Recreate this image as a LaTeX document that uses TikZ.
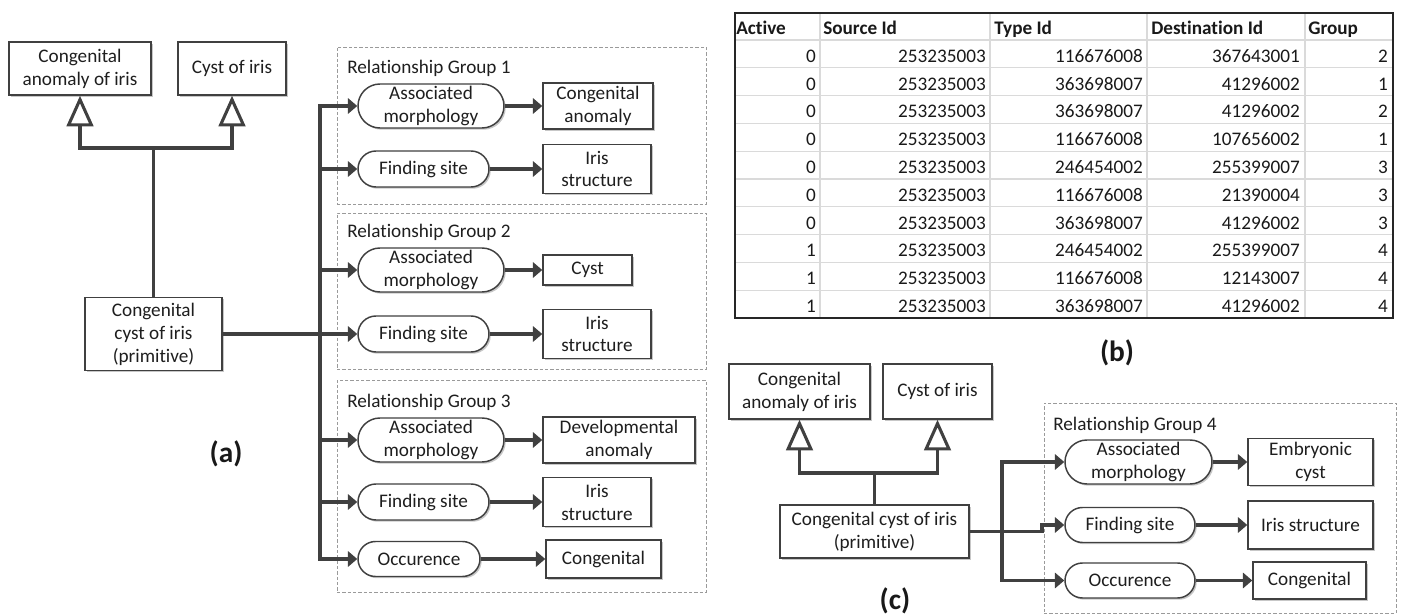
\documentclass[tikz,border=0pt]{standalone}
\usepackage{fontspec}
\setmainfont{Carlito}[Ligatures=NoCommon]
\usetikzlibrary{arrows.meta,shapes.misc,shadows}
\definecolor{ln}{HTML}{404040}
\definecolor{tx}{HTML}{1E1E1E}
\definecolor{grd}{HTML}{DADADA}
\definecolor{dsh}{HTML}{9A9A9A}
\begin{document}
\begin{tikzpicture}[x=0.75pt,y=-0.75pt,
  every node/.style={font=\fontsize{14.4}{17.2}\selectfont, text=tx},
  sz/.style 2 args={minimum width=#1*0.75pt, minimum height=#2*0.75pt},
  cbox/.style={draw=ln, line width=1.1pt, fill=white, inner sep=0pt, align=center,
    drop shadow={shadow xshift=1.3pt, shadow yshift=-1.3pt, opacity=0.22, fill=black}},
  pill/.style={cbox, rounded rectangle},
  grp/.style={draw=dsh, line width=0.6pt, dash pattern=on 2.5pt off 1.5pt, inner sep=0pt},
  glabel/.style={anchor=west, inner sep=0pt},
  bus/.style={draw=ln, line width=2.6pt},
  rel/.style={bus, -{Triangle[length=7pt,width=11.5pt]}},
  isa/.style={draw=ln, line width=2.3pt, -{Triangle[open,length=23pt,width=20pt,fill=white]}},
  capl/.style={font=\fontsize{22}{26}\selectfont\bfseries, text=black!90},
  hd/.style={font=\fontsize{14.4}{17}\selectfont\bfseries, anchor=base west, inner sep=0pt, text=black!90},
  num/.style={anchor=base east, inner sep=0pt, text=black!90},
  tgrid/.style={draw=grd, line width=1pt},
]
\useasboundingbox (0,0) rectangle (1404,616);

% ---------------- (a) ----------------
\node[grp, sz={369}{157}] (g1) at (521.5,125.5) {};
\node[grp, sz={369}{156}] (g2) at (521.5,291) {};
\node[grp, sz={369}{212}] (g3) at (521.5,486) {};
\node[glabel] (g1l) at (347,68) {Relationship Group 1};
\node[glabel] (g2l) at (347,232) {Relationship Group 2};
\node[glabel] (g3l) at (347,402) {Relationship Group 3};

\node[cbox, sz={142}{53}] (a1) at (80,68.5) {Congenital\\anomaly of iris};
\node[cbox, sz={108}{53}] (a2) at (232,68.5) {Cyst of iris};
\node[cbox, sz={137}{73}] (ap) at (153.5,334) {Congenital\\cyst of iris\\(primitive)};

\node[pill, sz={146}{44}] (p1) at (431,106) {Associated\\morphology};
\node[cbox, sz={110}{46}] (t1) at (598,106) {Congenital\\anomaly};
\node[pill, sz={131}{36}] (p2) at (423.5,169) {Finding site};
\node[cbox, sz={108}{49}] (t2) at (597,169) {Iris\\structure};
\node[pill, sz={146}{44}] (p3) at (431,270) {Associated\\morphology};
\node[cbox, sz={89}{30}] (t3) at (587.5,270) {Cyst};
\node[pill, sz={131}{36}] (p4) at (423.5,334) {Finding site};
\node[cbox, sz={108}{49}] (t4) at (597,334) {Iris\\structure};
\node[pill, sz={146}{44}] (p5) at (431,440) {Associated\\morphology};
\node[cbox, sz={152}{46}] (t5) at (619,440) {Developmental\\anomaly};
\node[pill, sz={131}{36}] (p6) at (423.5,502) {Finding site};
\node[cbox, sz={108}{49}] (t6) at (597,502) {Iris\\structure};
\node[pill, sz={122}{35}] (p7) at (419,559) {Occurence};
\node[cbox, sz={115}{38}] (t7) at (603.5,559) {Congenital};

\coordinate (ja) at (153.5,148);
\draw[isa] (ap.north) -- (ja) -| (a1.south);
\draw[isa] (ja) -| (a2.south);

\coordinate (bT) at (320,106);
\coordinate (bB) at (320,559);
\draw[bus] (ap.east) -- (ap.east -| bT);
\draw[rel] (bB) |- (p1.west);
\draw[rel] (bT) |- (p7.west);
\foreach \p in {p2,p3,p4,p5,p6} \draw[rel] (\p.west -| bT) -- (\p.west);
\foreach \p/\t in {p1/t1,p2/t2,p3/t3,p4/t4,p5/t5,p6/t6,p7/t7} \draw[rel] (\p.east) -- (\t.west);

\node[capl] (la) at (226,454) {(a)};

% ---------------- (b) table ----------------
\foreach \k in {0,...,9} \draw[tgrid] (735,{40+27.8*\k}) -- (1393,{40+27.8*\k});
\foreach \xx in {820,990,1147,1305} \draw[tgrid] (\xx,13) -- (\xx,318);
\draw[draw=black!85, line width=1.4pt] (735,13) rectangle (1393,318);
\node[hd] (h1) at (736,35) {Active};
\node[hd] (h2) at (823,35) {Source Id};
\node[hd] (h3) at (994,35) {Type Id};
\node[hd] (h4) at (1151,35) {Destination Id};
\node[hd] (h5) at (1308,35) {Group};
\foreach \a/\b/\c/\d/\e [count=\i] in {
  0/253235003/116676008/367643001/2,
  0/253235003/363698007/41296002/1,
  0/253235003/363698007/41296002/2,
  0/253235003/116676008/107656002/1,
  0/253235003/246454002/255399007/3,
  0/253235003/116676008/21390004/3,
  0/253235003/363698007/41296002/3,
  1/253235003/246454002/255399007/4,
  1/253235003/116676008/12143007/4,
  1/253235003/363698007/41296002/4}{
  \pgfmathsetmacro\yb{40+27.8*\i-5.5}
  \node[num] (ra\i) at (816,\yb) {\a};
  \node[num] (rb\i) at (986,\yb) {\b};
  \node[num] (rc\i) at (1143,\yb) {\c};
  \node[num] (rd\i) at (1300,\yb) {\d};
  \node[num] (re\i) at (1388,\yb) {\e};
}
\node[capl] (lb) at (1117,353) {(b)};

% ---------------- (c) ----------------
\node[grp, sz={352}{210}] (g4) at (1220,508) {};
\node[glabel] (g4l) at (1053,425) {Relationship Group 4};

\node[cbox, sz={141}{55}] (c1) at (799.5,391.5) {Congenital\\anomaly of iris};
\node[cbox, sz={109}{55}] (c2) at (937.5,391.5) {Cyst of iris};
\node[cbox, sz={189}{53}] (cp) at (874.5,531.5) {Congenital cyst of iris\\(primitive)};

\node[pill, sz={147}{44}] (q1) at (1138.5,462) {Associated\\morphology};
\node[cbox, sz={125}{47}] (s1) at (1310.5,462) {Embryonic\\cyst};
\node[pill, sz={130}{35}] (q2) at (1130,525) {Finding site};
\node[cbox, sz={125}{48}] (s2) at (1310.5,525) {Iris structure};
\node[pill, sz={130}{35}] (q3) at (1130,580.5) {Occurence};
\node[cbox, sz={113}{37}] (s3) at (1309.5,580.5) {Congenital};

\coordinate (jc) at (874.5,473);
\draw[isa] (cp.north) -- (jc) -| (c1.south);
\draw[isa] (jc) -| (c2.south);

\coordinate (cT) at (1002,462);
\coordinate (cB) at (1002,580.5);
\draw[rel] (cB) |- (q1.west);
\draw[rel] (cT) |- (q3.west);
\coordinate (cj) at (1042,531.5);
\draw[rel] (cp.east) -- (cj) |- (q2.west);
\foreach \p/\t in {q1/s1,q2/s2,q3/s3} \draw[rel] (\p.east) -- (\t.west);

\node[capl] (lc) at (895,601) {(c)};
\end{tikzpicture}
\end{document}
